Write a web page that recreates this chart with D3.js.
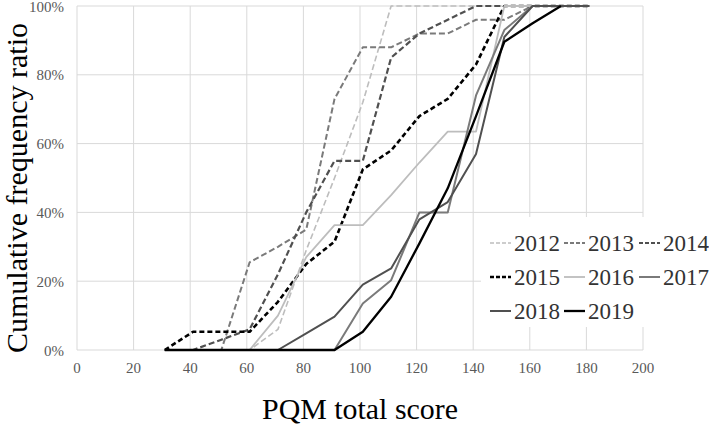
<!DOCTYPE html>
<html>
<head>
	<meta charset="utf-8">
	<title>PQM cumulative frequency</title>
	<script src="https://d3js.org/d3.v7.min.js"></script>
	<style>
		body {
			margin: 0;
			background-color: #fff;
		}
		svg text {
			font-family: "Liberation Serif", "Times New Roman", "DejaVu Serif", serif;
		}
		.grid line {
			stroke: #d9d9d9;
			stroke-width: 1;
		}
		.tick-label {
			font-size: 15px;
			fill: #595959;
		}
		.axis-title {
			font-size: 29px;
			fill: #000;
		}
		.legend-label {
			font-size: 23px;
			fill: #333;
		}
	</style>
</head>
<body>
	<div id="chart"></div>
<script>

	// Scores (class upper bounds) shared by every year.
	const scores = [31, 41, 51, 61, 71, 81, 91, 101, 111, 121, 131, 141, 151, 161, 171, 181];

	// Cumulative frequency ratio (%) per year.
	const y2012 = [0, 0, 0, 0, 6, 29, 50, 72, 100, 100, 100, 100, 100, 100, 100, 100];
	const y2013 = [0, 0, 0, 25.5, 30, 35, 73, 88, 88, 92, 92, 96, 96, 100, 100, 100];
	const y2014 = [0, 0, 3, 6, 22, 40, 55, 55, 85, 92, 96, 100, 100, 100, 100, 100];
	const y2015 = [0, 5.3, 5.3, 5.3, 14, 25, 31.5, 52.5, 58, 68, 73, 83, 100, 100, 100, 100];
	const y2016 = [0, 0, 0, 0, 10, 27, 36.3, 36.3, 45, 54.5, 63.5, 63.5, 100, 100, 100, 100];
	const y2017 = [0, 0, 0, 0, 0, 0, 0, 13.5, 20.3, 40, 40, 74, 93, 100, 100, 100];
	const y2018 = [0, 0, 0, 0, 0, 4.8, 9.7, 19, 23.7, 38, 43, 57, 91, 100, 100, 100];
	const y2019 = [0, 0, 0, 0, 0, 0, 0, 5.3, 15.5, 31, 47, 68, 89.6, 95, 100, null];

	const years = ['2012', '2013', '2014', '2015', '2016', '2017', '2018', '2019'];
	const values = [y2012, y2013, y2014, y2015, y2016, y2017, y2018, y2019];

	const xTicks = [0, 20, 40, 60, 80, 100, 120, 140, 160, 180, 200];
	const yTicks = [0, 20, 40, 60, 80, 100];

	// Line styles for each year.
	const styles = [
		{color: '#bdbdbd', width: 1.6, dash: '6,3'},
		{color: '#7a7a7a', width: 2, dash: '6,3'},
		{color: '#505050', width: 2.2, dash: '6,3'},
		{color: '#000000', width: 2.6, dash: '5,3'},
		{color: '#bdbdbd', width: 1.8, dash: null},
		{color: '#7a7a7a', width: 2, dash: null},
		{color: '#505050', width: 2, dash: null},
		{color: '#000000', width: 2.3, dash: null},
	];

	const W = 709, H = 426;
	const plot = {left: 77, right: 643, top: 6, bottom: 350};

	const svg = d3.select('#chart').append('svg')
		.attr('width', W)
		.attr('height', H);

	const x = d3.scaleLinear().domain([0, 200]).range([plot.left, plot.right]);
	const y = d3.scaleLinear().domain([0, 100]).range([plot.bottom, plot.top]);

	// Gridlines.
	const grid = svg.append('g').attr('class', 'grid');
	grid.selectAll('.vline')
		.data(xTicks)
		.enter().append('line')
			.attr('x1', d => x(d)).attr('x2', d => x(d))
			.attr('y1', plot.top).attr('y2', plot.bottom);
	grid.selectAll('.hline')
		.data(yTicks)
		.enter().append('line')
			.attr('x1', plot.left).attr('x2', plot.right)
			.attr('y1', d => y(d)).attr('y2', d => y(d));

	// Tick labels.
	svg.append('g').selectAll('text')
		.data(xTicks)
		.enter().append('text')
			.attr('class', 'tick-label')
			.attr('x', d => x(d))
			.attr('y', plot.bottom + 23)
			.attr('text-anchor', 'middle')
			.text(d => d);
	svg.append('g').selectAll('text')
		.data(yTicks)
		.enter().append('text')
			.attr('class', 'tick-label')
			.attr('x', plot.left - 13)
			.attr('y', d => y(d) + 5.5)
			.attr('text-anchor', 'end')
			.text(d => d + '%');

	// Legend background hides gridlines behind it.
	svg.append('rect')
		.attr('x', 481).attr('y', 217)
		.attr('width', 228).attr('height', 110)
		.attr('fill', '#fff');

	// Series lines.
	const line = d3.line()
		.defined(d => d[1] !== null)
		.x(d => x(d[0]))
		.y(d => y(d[1]));

	svg.append('g').selectAll('path')
		.data(values)
		.enter().append('path')
			.attr('fill', 'none')
			.attr('stroke', (d, i) => styles[i].color)
			.attr('stroke-width', (d, i) => styles[i].width)
			.attr('stroke-dasharray', (d, i) => styles[i].dash)
			.attr('stroke-linejoin', 'round')
			.attr('d', d => line(d.map((v, j) => [scores[j], v])));

	// Legend (3 columns).
	const colX = [490, 564, 639];
	const rowY = [243, 277, 311];
	const legend = svg.append('g').selectAll('g')
		.data(years)
		.enter().append('g')
			.attr('transform', (d, i) => 'translate(' + colX[i % 3] + ',' + rowY[Math.floor(i / 3)] + ')');
	legend.append('line')
		.attr('x1', 0).attr('x2', 21)
		.attr('y1', 0).attr('y2', 0)
		.attr('stroke', (d, i) => styles[i].color)
		.attr('stroke-width', (d, i) => styles[i].width)
		.attr('stroke-dasharray', (d, i) => styles[i].dash ? '4,2' : null);
	legend.append('text')
		.attr('class', 'legend-label')
		.attr('x', 24)
		.attr('y', 8)
		.text(d => d);

	// Axis titles.
	svg.append('text')
		.attr('class', 'axis-title')
		.attr('x', (plot.left + plot.right) / 2)
		.attr('y', 419)
		.attr('text-anchor', 'middle')
		.attr('textLength', 196)
		.attr('lengthAdjust', 'spacingAndGlyphs')
		.text('PQM total score');
	svg.append('text')
		.attr('class', 'axis-title')
		.attr('transform', 'translate(27,' + ((plot.top + plot.bottom) / 2 + 10) + ') rotate(-90)')
		.attr('text-anchor', 'middle')
		.attr('textLength', 330)
		.attr('lengthAdjust', 'spacingAndGlyphs')
		.text('Cumulative frequency ratio');

</script>
</body>
</html>
